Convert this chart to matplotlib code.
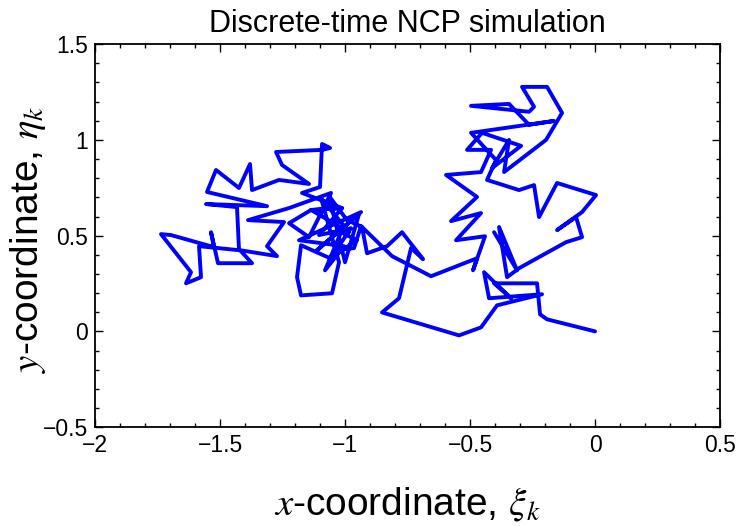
import matplotlib
matplotlib.use("Agg")
import matplotlib.pyplot as plt
from matplotlib.ticker import MultipleLocator

plt.rcParams['font.family'] = ['Liberation Sans', 'DejaVu Sans']
plt.rcParams['mathtext.fontset'] = 'stix'

xi = [0.0, -0.192, -0.22, -0.232, -0.404, -0.336, -0.444, -0.424, -0.212, -0.392,
      -0.456, -0.544, -0.852, -0.784, -0.736, -0.688, -0.772, -0.832, -0.912, -0.932,
      -0.992, -1.064, -1.0, -0.944, -1.112, -0.936, -1.184, -1.004, -1.08, -1.016,
      -0.952, -1.06, -1.176, -1.192, -1.176, -1.052, -1.024, -1.096, -0.984, -1.136,
      -1.012, -1.172, -1.10, -1.092, -1.06, -1.092, -1.276, -1.252, -1.144, -1.264,
      -1.372, -1.38, -1.424, -1.516, -1.552, -1.312, -1.556, -1.432, -1.424, -1.584,
      -1.576, -1.636, -1.616, -1.736, -1.696, -1.524, -1.536, -1.508, -1.372, -1.42,
      -1.272, -1.312, -1.244, -1.388, -1.224, -1.056, -1.144, -1.224, -1.136, -1.012,
      -1.104, -0.976, -1.036, -0.964, -0.936, -0.812, -0.656, -0.472, -0.488, -0.44,
      -0.556, -0.456, -0.576, -0.472, -0.596, -0.456, -0.416, -0.512, -0.452, -0.296,
      -0.412, -0.344, -0.364, -0.196, -0.132, -0.192, -0.292, -0.244, -0.264, -0.496,
      -0.344, -0.264, -0.164, -0.496, -0.396, -0.432, -0.304, -0.244, -0.224, -0.152,
      0.004, -0.052, -0.152, -0.076, -0.052, -0.116, -0.304, -0.352, -0.384, -0.312,
      -0.404]
eta = [0.0, 0.063, 0.089, 0.251, 0.251, 0.173, 0.309, 0.173, 0.194, 0.136,
       0.021, -0.021, 0.099, 0.173, 0.435, 0.377, 0.518, 0.445, 0.408, 0.545,
       0.581, 0.707, 0.361, 0.613, 0.424, 0.623, 0.476, 0.445, 0.319, 0.518,
       0.476, 0.382, 0.450, 0.283, 0.188, 0.199, 0.361, 0.696, 0.518, 0.634,
       0.644, 0.723, 0.754, 0.979, 0.958, 0.948, 0.937, 0.869, 0.770, 0.791,
       0.738, 0.874, 0.749, 0.843, 0.728, 0.654, 0.665, 0.649, 0.424, 0.445,
       0.283, 0.251, 0.309, 0.508, 0.503, 0.440, 0.518, 0.356, 0.356, 0.424,
       0.393, 0.445, 0.571, 0.581, 0.644, 0.723, 0.492, 0.565, 0.634, 0.644,
       0.503, 0.539, 0.424, 0.435, 0.550, 0.393, 0.288, 0.382, 0.319, 0.497,
       0.476, 0.618, 0.576, 0.702, 0.817, 0.832, 0.948, 0.948, 1.037, 0.969,
       0.853, 1.0, 0.832, 1.0, 1.141, 1.277, 1.277, 1.173, 1.147, 1.178,
       1.188, 1.079, 1.099, 1.037, 0.895, 0.791, 0.738, 0.764, 0.597, 0.775,
       0.712, 0.623, 0.529, 0.597, 0.492, 0.466, 0.330, 0.283, 0.545, 0.319,
       0.518]

x_ticks = [-2, -1.5, -1, -0.5, 0, 0.5]
x_ticklabels = ['\u22122', '\u22121.5', '\u22121', '\u22120.5', '0', '0.5']
y_ticks = [-0.5, 0, 0.5, 1, 1.5]
y_ticklabels = ['\u22120.5', '0', '0.5', '1', '1.5']

fig = plt.figure(figsize=(7.54, 5.26), dpi=100)
ax = fig.add_axes([0.126, 0.188, 0.829, 0.728])

ax.plot(xi, eta, color='#0000FF', linewidth=2.8, solid_joinstyle='round',
        solid_capstyle='round')

ax.set_xlim(-2, 0.5)
ax.set_ylim(-0.5, 1.5)
ax.set_xticks(x_ticks)
ax.set_xticklabels(x_ticklabels)
ax.set_yticks(y_ticks)
ax.set_yticklabels(y_ticklabels)
ax.xaxis.set_minor_locator(MultipleLocator(0.1))
ax.yaxis.set_minor_locator(MultipleLocator(0.1))
ax.tick_params(which='both', direction='in', top=True, right=True,
               labelsize=16.5, width=1.0)
ax.tick_params(axis='x', pad=5)
ax.tick_params(axis='y', pad=5)
ax.tick_params(which='major', length=6)
ax.tick_params(which='minor', length=3)
for s in ax.spines.values():
    s.set_linewidth(1.3)

ax.set_title('Discrete-time NCP simulation', fontsize=22, pad=9)
ax.set_xlabel(r'$x$-coordinate, $\xi_k$', fontsize=28)
ax.set_ylabel(r'$y$-coordinate, $\eta_k$', fontsize=28)
ax.xaxis.set_label_coords(0.5, -0.15)
ax.yaxis.set_label_coords(-0.075, 0.49)

fig.savefig('out.png', dpi=100)
